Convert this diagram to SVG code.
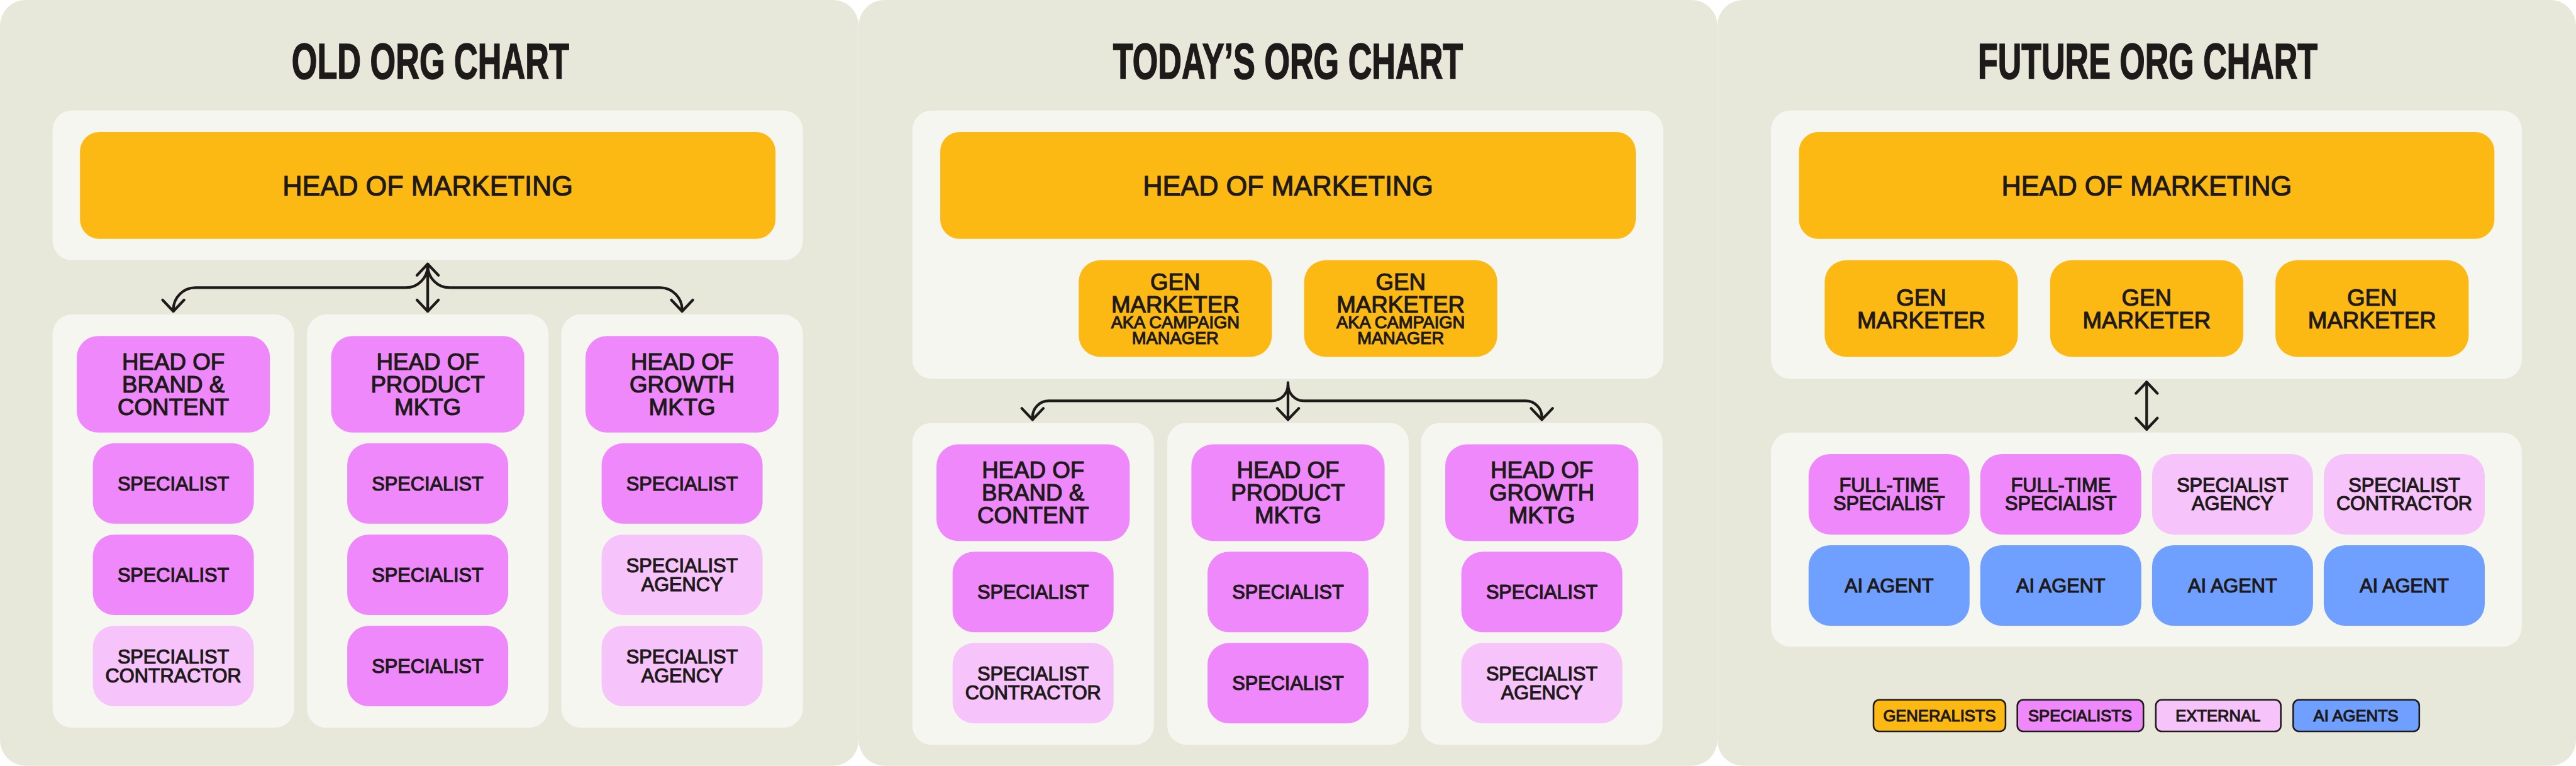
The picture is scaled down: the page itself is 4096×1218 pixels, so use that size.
<svg xmlns="http://www.w3.org/2000/svg" width="4096" height="1218" viewBox="0 0 4096 1218">
<style>
.panel{fill:#E7E7DA}
.box{fill:#F6F6F1}
.gen{fill:#FDB913}
.spec{fill:#EF89FB}
.ext{fill:#F6C3FB}
.ai{fill:#6FA0FF}
.t{font-family:"Liberation Sans",Arial,sans-serif;fill:#1E1A1A;stroke:#1E1A1A;stroke-width:1.4;text-anchor:middle}
.title{font-family:"Liberation Sans",Arial,sans-serif;font-weight:bold;font-size:93px;fill:#1E1A1A;stroke:#1E1A1A;stroke-width:2;text-anchor:middle}
.f53{font-size:53px}
.f43{font-size:43px}
.f36{font-size:36px}
.f32{font-size:32px}
.f30{font-size:30px}
.conn{fill:none;stroke:#1E1A1A;stroke-width:5;stroke-linecap:round;stroke-linejoin:round}
.leg{stroke:#1E1A1A;stroke-width:3}
</style>
<defs>
<marker id="arr" markerUnits="userSpaceOnUse" orient="auto-start-reverse" overflow="visible" markerWidth="1" markerHeight="1" refX="0" refY="0">
<path d="M-21,-20 L0,0 L-21,20" fill="none" stroke="#1E1A1A" stroke-width="5" stroke-linecap="round" stroke-linejoin="round"/>
</marker>
</defs>
<rect width="4096" height="1218" fill="#FFFFFF"/>
<g transform="scale(0.853333)">

<!-- PANEL 1: OLD ORG CHART -->
<g id="panel-old">
<rect class="panel" x="0" y="0" width="1600" height="1427" rx="48"/>
<text class="title" x="802" y="147" textLength="517" lengthAdjust="spacingAndGlyphs">OLD ORG CHART</text>
<rect class="box" x="98" y="206" width="1398" height="279" rx="36"/>
<g id="old-hom"><rect class="gen" x="149" y="246" width="1296" height="199" rx="36"/><text class="t f53" x="797" y="365" textLength="541" lengthAdjust="spacingAndGlyphs">HEAD OF MARKETING</text></g>
<rect class="box" x="98" y="586" width="450" height="770" rx="36"/>
<rect class="box" x="572" y="586" width="450" height="770" rx="36"/>
<rect class="box" x="1046" y="586" width="450" height="770" rx="36"/>
<g id="old-head-brand"><rect class="spec" x="143" y="626" width="360" height="180" rx="40"/><text class="t f43" x="323" y="689">HEAD OF</text><text class="t f43" x="323" y="731">BRAND &amp;</text><text class="t f43" x="323" y="773">CONTENT</text></g>
<g id="old-head-product"><rect class="spec" x="617" y="626" width="360" height="180" rx="40"/><text class="t f43" x="797" y="689">HEAD OF</text><text class="t f43" x="797" y="731">PRODUCT</text><text class="t f43" x="797" y="773">MKTG</text></g>
<g id="old-head-growth"><rect class="spec" x="1091" y="626" width="360" height="180" rx="40"/><text class="t f43" x="1271" y="689">HEAD OF</text><text class="t f43" x="1271" y="731">GROWTH</text><text class="t f43" x="1271" y="773">MKTG</text></g>
<g id="old-b1"><rect class="spec" x="173" y="826" width="300" height="150" rx="40"/><text class="t f36" x="323" y="914">SPECIALIST</text></g>
<g id="old-b2"><rect class="spec" x="173" y="996" width="300" height="150" rx="40"/><text class="t f36" x="323" y="1084">SPECIALIST</text></g>
<g id="old-b3"><rect class="ext" x="173" y="1166" width="300" height="150" rx="40"/><text class="t f36" x="323" y="1236">SPECIALIST</text><text class="t f36" x="323" y="1271">CONTRACTOR</text></g>
<g id="old-p1"><rect class="spec" x="647" y="826" width="300" height="150" rx="40"/><text class="t f36" x="797" y="914">SPECIALIST</text></g>
<g id="old-p2"><rect class="spec" x="647" y="996" width="300" height="150" rx="40"/><text class="t f36" x="797" y="1084">SPECIALIST</text></g>
<g id="old-p3"><rect class="spec" x="647" y="1166" width="300" height="150" rx="40"/><text class="t f36" x="797" y="1254">SPECIALIST</text></g>
<g id="old-g1"><rect class="spec" x="1121" y="826" width="300" height="150" rx="40"/><text class="t f36" x="1271" y="914">SPECIALIST</text></g>
<g id="old-g2"><rect class="ext" x="1121" y="996" width="300" height="150" rx="40"/><text class="t f36" x="1271" y="1066">SPECIALIST</text><text class="t f36" x="1271" y="1101">AGENCY</text></g>
<g id="old-g3"><rect class="ext" x="1121" y="1166" width="300" height="150" rx="40"/><text class="t f36" x="1271" y="1236">SPECIALIST</text><text class="t f36" x="1271" y="1271">AGENCY</text></g>
</g>

<!-- PANEL 2: TODAY'S ORG CHART -->
<g id="panel-today">
<rect class="panel" x="1600" y="0" width="1600" height="1427" rx="48"/>
<text class="title" x="2400" y="147" textLength="652" lengthAdjust="spacingAndGlyphs">TODAY’S ORG CHART</text>
<rect class="box" x="1700" y="206" width="1399" height="500" rx="36"/>
<g id="today-hom"><rect class="gen" x="1752" y="246" width="1296" height="199" rx="36"/><text class="t f53" x="2400" y="365" textLength="541" lengthAdjust="spacingAndGlyphs">HEAD OF MARKETING</text></g>
<g id="today-gen1"><rect class="gen" x="2010" y="485" width="360" height="180" rx="40"/><text class="t f43" x="2190" y="540">GEN</text><text class="t f43" x="2190" y="582">MARKETER</text><text class="t f32" x="2190" y="612">AKA CAMPAIGN</text><text class="t f32" x="2190" y="641">MANAGER</text></g>
<g id="today-gen2"><rect class="gen" x="2430" y="485" width="360" height="180" rx="40"/><text class="t f43" x="2610" y="540">GEN</text><text class="t f43" x="2610" y="582">MARKETER</text><text class="t f32" x="2610" y="612">AKA CAMPAIGN</text><text class="t f32" x="2610" y="641">MANAGER</text></g>
<rect class="box" x="1700" y="788" width="450" height="600" rx="36"/>
<rect class="box" x="2175" y="788" width="450" height="600" rx="36"/>
<rect class="box" x="2648" y="788" width="450" height="600" rx="36"/>
<g id="today-head-brand"><rect class="spec" x="1745" y="828" width="360" height="180" rx="40"/><text class="t f43" x="1925" y="891">HEAD OF</text><text class="t f43" x="1925" y="933">BRAND &amp;</text><text class="t f43" x="1925" y="975">CONTENT</text></g>
<g id="today-head-product"><rect class="spec" x="2220" y="828" width="360" height="180" rx="40"/><text class="t f43" x="2400" y="891">HEAD OF</text><text class="t f43" x="2400" y="933">PRODUCT</text><text class="t f43" x="2400" y="975">MKTG</text></g>
<g id="today-head-growth"><rect class="spec" x="2693" y="828" width="360" height="180" rx="40"/><text class="t f43" x="2873" y="891">HEAD OF</text><text class="t f43" x="2873" y="933">GROWTH</text><text class="t f43" x="2873" y="975">MKTG</text></g>
<g id="today-b1"><rect class="spec" x="1775" y="1028" width="300" height="150" rx="40"/><text class="t f36" x="1925" y="1116">SPECIALIST</text></g>
<g id="today-b2"><rect class="ext" x="1775" y="1198" width="300" height="150" rx="40"/><text class="t f36" x="1925" y="1268">SPECIALIST</text><text class="t f36" x="1925" y="1303">CONTRACTOR</text></g>
<g id="today-p1"><rect class="spec" x="2250" y="1028" width="300" height="150" rx="40"/><text class="t f36" x="2400" y="1116">SPECIALIST</text></g>
<g id="today-p2"><rect class="spec" x="2250" y="1198" width="300" height="150" rx="40"/><text class="t f36" x="2400" y="1286">SPECIALIST</text></g>
<g id="today-g1"><rect class="spec" x="2723" y="1028" width="300" height="150" rx="40"/><text class="t f36" x="2873" y="1116">SPECIALIST</text></g>
<g id="today-g2"><rect class="ext" x="2723" y="1198" width="300" height="150" rx="40"/><text class="t f36" x="2873" y="1268">SPECIALIST</text><text class="t f36" x="2873" y="1303">AGENCY</text></g>
</g>

<!-- PANEL 3: FUTURE ORG CHART -->
<g id="panel-future">
<rect class="panel" x="3200" y="0" width="1600" height="1427" rx="48"/>
<text class="title" x="4002" y="147" textLength="633" lengthAdjust="spacingAndGlyphs">FUTURE ORG CHART</text>
<rect class="box" x="3300" y="206" width="1399" height="500" rx="36"/>
<g id="future-hom"><rect class="gen" x="3352" y="246" width="1296" height="199" rx="36"/><text class="t f53" x="4000" y="365" textLength="541" lengthAdjust="spacingAndGlyphs">HEAD OF MARKETING</text></g>
<g id="future-gen1"><rect class="gen" x="3400" y="485" width="360" height="180" rx="40"/><text class="t f43" x="3580" y="569">GEN</text><text class="t f43" x="3580" y="612">MARKETER</text></g>
<g id="future-gen2"><rect class="gen" x="3820" y="485" width="360" height="180" rx="40"/><text class="t f43" x="4000" y="569">GEN</text><text class="t f43" x="4000" y="612">MARKETER</text></g>
<g id="future-gen3"><rect class="gen" x="4240" y="485" width="360" height="180" rx="40"/><text class="t f43" x="4420" y="569">GEN</text><text class="t f43" x="4420" y="612">MARKETER</text></g>
<rect class="box" x="3300" y="806" width="1399" height="399" rx="36"/>
<g id="future-ft1"><rect class="spec" x="3370" y="846" width="300" height="150" rx="40"/><text class="t f36" x="3520" y="916">FULL-TIME</text><text class="t f36" x="3520" y="950">SPECIALIST</text></g>
<g id="future-ft2"><rect class="spec" x="3690" y="846" width="300" height="150" rx="40"/><text class="t f36" x="3840" y="916">FULL-TIME</text><text class="t f36" x="3840" y="950">SPECIALIST</text></g>
<g id="future-agency"><rect class="ext" x="4010" y="846" width="300" height="150" rx="40"/><text class="t f36" x="4160" y="916">SPECIALIST</text><text class="t f36" x="4160" y="950">AGENCY</text></g>
<g id="future-contractor"><rect class="ext" x="4330" y="846" width="300" height="150" rx="40"/><text class="t f36" x="4480" y="916">SPECIALIST</text><text class="t f36" x="4480" y="950">CONTRACTOR</text></g>
<g id="future-ai1"><rect class="ai" x="3370" y="1016" width="300" height="150" rx="40"/><text class="t f36" x="3520" y="1104">AI AGENT</text></g>
<g id="future-ai2"><rect class="ai" x="3690" y="1016" width="300" height="150" rx="40"/><text class="t f36" x="3840" y="1104">AI AGENT</text></g>
<g id="future-ai3"><rect class="ai" x="4010" y="1016" width="300" height="150" rx="40"/><text class="t f36" x="4160" y="1104">AI AGENT</text></g>
<g id="future-ai4"><rect class="ai" x="4330" y="1016" width="300" height="150" rx="40"/><text class="t f36" x="4480" y="1104">AI AGENT</text></g>
<g id="legend">
<g id="legend-generalists"><rect class="gen leg" x="3491" y="1304" width="246" height="59" rx="11"/><text class="t f30" x="3614" y="1344">GENERALISTS</text></g>
<g id="legend-specialists"><rect class="spec leg" x="3759" y="1304" width="235" height="59" rx="11"/><text class="t f30" x="3876" y="1344">SPECIALISTS</text></g>
<g id="legend-external"><rect class="ext leg" x="4017" y="1304" width="233" height="59" rx="11"/><text class="t f30" x="4133" y="1344">EXTERNAL</text></g>
<g id="legend-ai"><rect class="ai leg" x="4273" y="1304" width="235" height="59" rx="11"/><text class="t f30" x="4390" y="1344">AI AGENTS</text></g>
</g>
</g>

<!-- CONNECTORS -->
<g id="connectors">
<path class="conn" d="M797,492 L797,580" marker-start="url(#arr)" marker-end="url(#arr)"/>
<path class="conn" d="M797,495 A41,41 0 0 1 756,536 L364,536 A41,41 0 0 0 323,577 L323,580" marker-end="url(#arr)"/>
<path class="conn" d="M797,495 A41,41 0 0 0 838,536 L1230,536 A41,41 0 0 1 1271,577 L1271,580" marker-end="url(#arr)"/>
<path class="conn" d="M2400,713 L2400,782" marker-end="url(#arr)"/>
<path class="conn" d="M2400,717 A30,30 0 0 1 2370,747 L1954,747 A30,30 0 0 0 1924,777 L1924,782" marker-end="url(#arr)"/>
<path class="conn" d="M2400,717 A30,30 0 0 0 2430,747 L2843,747 A30,30 0 0 1 2873,777 L2873,782" marker-end="url(#arr)"/>
<path class="conn" d="M4000,712 L4000,800" marker-start="url(#arr)" marker-end="url(#arr)"/>
</g>

</g>
</svg>
